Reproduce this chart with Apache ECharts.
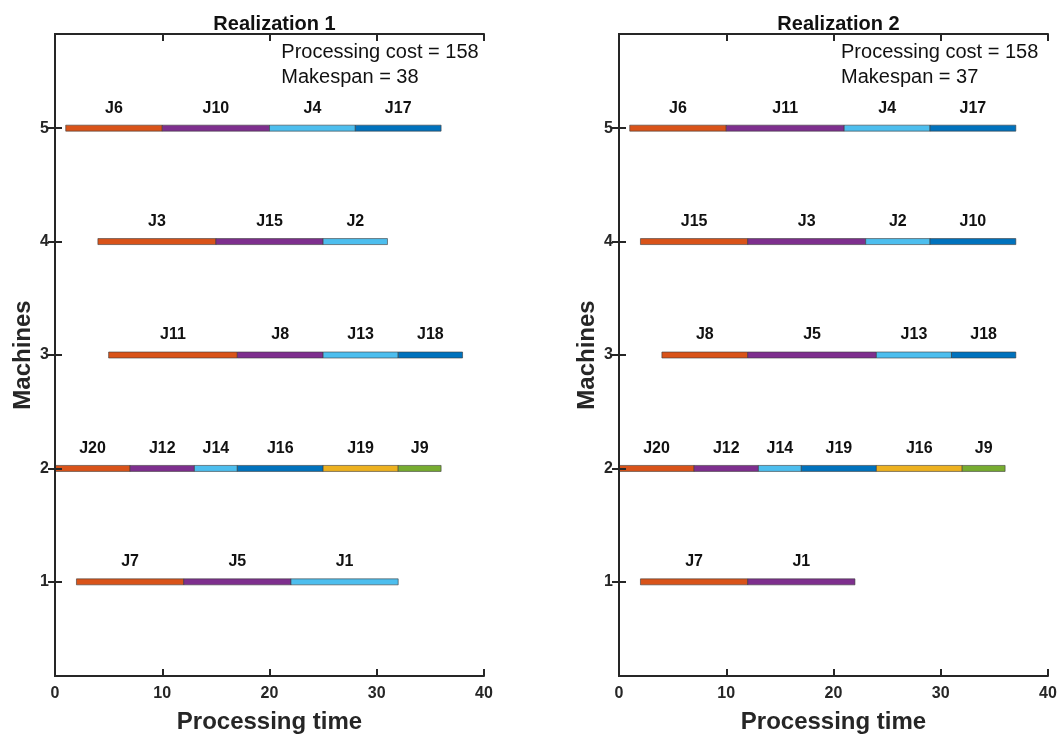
<!DOCTYPE html>
<html>
<head>
<meta charset="utf-8">
<title>Realization schedules</title>
<script src="https://cdn.jsdelivr.net/npm/echarts@6/dist/echarts.min.js"></script>
<style>
  html, body { margin: 0; padding: 0; background: #ffffff; }
  #chart { width: 1060px; height: 736px; }
</style>
</head>
<body>
<div id="chart"></div>
<script>
// Machines, top to bottom
const machines = [5, 4, 3, 2, 1];

// Realization 1: job order, start and end times on each machine
const r1Jobs = [
  ['J6', 'J10', 'J4', 'J17'],
  ['J3', 'J15', 'J2'],
  ['J11', 'J8', 'J13', 'J18'],
  ['J20', 'J12', 'J14', 'J16', 'J19', 'J9'],
  ['J7', 'J5', 'J1']
];
const r1Start = [
  [1, 10, 20, 28],
  [4, 15, 25],
  [5, 17, 25, 32],
  [0, 7, 13, 17, 25, 32],
  [2, 12, 22]
];
const r1End = [
  [10, 20, 28, 36],
  [15, 25, 31],
  [17, 25, 32, 38],
  [7, 13, 17, 25, 32, 36],
  [12, 22, 32]
];

// Realization 2
const r2Jobs = [
  ['J6', 'J11', 'J4', 'J17'],
  ['J15', 'J3', 'J2', 'J10'],
  ['J8', 'J5', 'J13', 'J18'],
  ['J20', 'J12', 'J14', 'J19', 'J16', 'J9'],
  ['J7', 'J1']
];
const r2Start = [
  [1, 10, 21, 29],
  [2, 12, 23, 29],
  [4, 12, 24, 31],
  [0, 7, 13, 17, 24, 32],
  [2, 12]
];
const r2End = [
  [10, 21, 29, 37],
  [12, 23, 29, 37],
  [12, 24, 31, 37],
  [7, 13, 17, 24, 32, 36],
  [12, 22]
];

// Summary figures
const titles = ['Realization 1', 'Realization 2'];
const costs = [158, 158];
const makespans = [38, 37];
const noteX = [21.1, 20.7];
const noteY = [5.667, 5.447];

// Axis ranges and ticks
const yTicks = [1, 2, 3, 4, 5];
const yMin = 0.17, yMax = 5.83;

// Colour by position in a machine's sequence
const slotColors = ['#D95319', '#7E2F8E', '#4DBEEE', '#0072BD', '#EDB120', '#77AC30'];

const FONT = '"Liberation Sans", Arial, Helvetica, sans-serif';
const INK = '#262626';

function buildItems(jobs, starts, ends) {
  const items = [];
  machines.forEach(function (m, mi) {
    jobs[mi].forEach(function (job, k) {
      items.push([starts[mi][k], ends[mi][k], m, job, k]);
    });
  });
  return items;
}

// One job block on a machine row, with its name above it
function renderBar(params, api) {
  const s = api.coord([api.value(0), api.value(2)]);
  const e = api.coord([api.value(1), api.value(2)]);
  const h = 6;
  const slot = api.value(4);
  return {
    type: 'group',
    children: [
      {
        type: 'rect',
        shape: { x: s[0], y: s[1] - h / 2, width: e[0] - s[0], height: h },
        style: { fill: slotColors[slot], stroke: '#3a3a3a', lineWidth: 0.6 }
      },
      {
        type: 'text',
        x: (s[0] + e[0]) / 2,
        y: s[1] - 20,
        style: {
          text: api.value(3),
          font: 'bold 16px ' + FONT,
          fill: '#111111',
          align: 'center',
          verticalAlign: 'middle'
        }
      }
    ]
  };
}

function renderNote(params, api) {
  const p = api.coord([api.value(0), api.value(1)]);
  return {
    type: 'text',
    x: p[0],
    y: p[1],
    style: {
      text: api.value(2),
      font: '20px ' + FONT,
      fill: '#111111',
      align: 'left',
      verticalAlign: 'middle'
    }
  };
}

const grids = [
  { left: 55, top: 34, width: 429, height: 642, outerBoundsMode: 'none', containLabel: false },
  { left: 619, top: 34, width: 429, height: 642, outerBoundsMode: 'none', containLabel: false }
];

const xAxes = [];
const yAxes = [];
grids.forEach(function (g, i) {
  // bottom axis with labels
  xAxes.push({
    type: 'value', gridIndex: i, position: 'bottom', min: 0, max: 40, interval: 10, z: 5,
    name: 'Processing time', nameLocation: 'middle', nameGap: 34,
    nameTextStyle: { fontFamily: FONT, fontWeight: 'bold', fontSize: 24, color: INK },
    axisLine: { show: true, lineStyle: { color: INK, width: 2 } },
    axisTick: { show: true, inside: true, length: 7, lineStyle: { color: INK, width: 2 } },
    axisLabel: { show: true, margin: 10, fontFamily: FONT, fontWeight: 'bold', fontSize: 16, color: INK },
    splitLine: { show: false }
  });
  // top frame edge
  xAxes.push({
    type: 'value', gridIndex: i, position: 'top', min: 0, max: 40, interval: 10, z: 5,
    axisLine: { show: true, lineStyle: { color: INK, width: 2 } },
    axisTick: { show: true, inside: true, length: 7, lineStyle: { color: INK, width: 2 } },
    axisLabel: { show: false },
    splitLine: { show: false }
  });
  // left axis with labels
  yAxes.push({
    type: 'value', gridIndex: i, position: 'left', min: yMin, max: yMax, z: 5,
    name: 'Machines', nameLocation: 'middle', nameGap: 20,
    nameTextStyle: { fontFamily: FONT, fontWeight: 'bold', fontSize: 24, color: INK },
    axisLine: { show: true, lineStyle: { color: INK, width: 2 } },
    axisTick: { show: true, inside: true, length: 7, customValues: yTicks, lineStyle: { color: INK, width: 2 } },
    axisLabel: { show: true, margin: 6, customValues: yTicks, fontFamily: FONT, fontWeight: 'bold', fontSize: 16, color: INK },
    splitLine: { show: false }
  });
  // right frame edge
  yAxes.push({
    type: 'value', gridIndex: i, position: 'right', min: yMin, max: yMax, z: 5,
    axisLine: { show: true, lineStyle: { color: INK, width: 2 } },
    axisTick: { show: true, inside: true, length: 7, customValues: yTicks, lineStyle: { color: INK, width: 2 } },
    axisLabel: { show: false },
    splitLine: { show: false }
  });
});

const realizations = [
  buildItems(r1Jobs, r1Start, r1End),
  buildItems(r2Jobs, r2Start, r2End)
];

const series = [];
realizations.forEach(function (items, i) {
  series.push({
    type: 'custom',
    xAxisIndex: i * 2,
    yAxisIndex: i * 2,
    renderItem: renderBar,
    encode: { x: [0, 1], y: 2 },
    data: items,
    silent: true,
    clip: false
  });
  series.push({
    type: 'custom',
    xAxisIndex: i * 2,
    yAxisIndex: i * 2,
    renderItem: renderNote,
    encode: { x: 0, y: 1 },
    data: [
      [noteX[i], noteY[0], 'Processing cost = ' + costs[i]],
      [noteX[i], noteY[1], 'Makespan = ' + makespans[i]]
    ],
    silent: true,
    clip: false
  });
});

const chart = echarts.init(document.getElementById('chart'), null, { renderer: 'canvas' });
chart.setOption({
  backgroundColor: '#ffffff',
  animation: false,
  title: titles.map(function (t, i) {
    return {
      text: t,
      left: grids[i].left + grids[i].width / 2,
      top: 9,
      textAlign: 'center',
      textStyle: { fontFamily: FONT, fontWeight: 'bold', fontSize: 20, color: '#111111' }
    };
  }),
  grid: grids,
  xAxis: xAxes,
  yAxis: yAxes,
  series: series
});
</script>
</body>
</html>
